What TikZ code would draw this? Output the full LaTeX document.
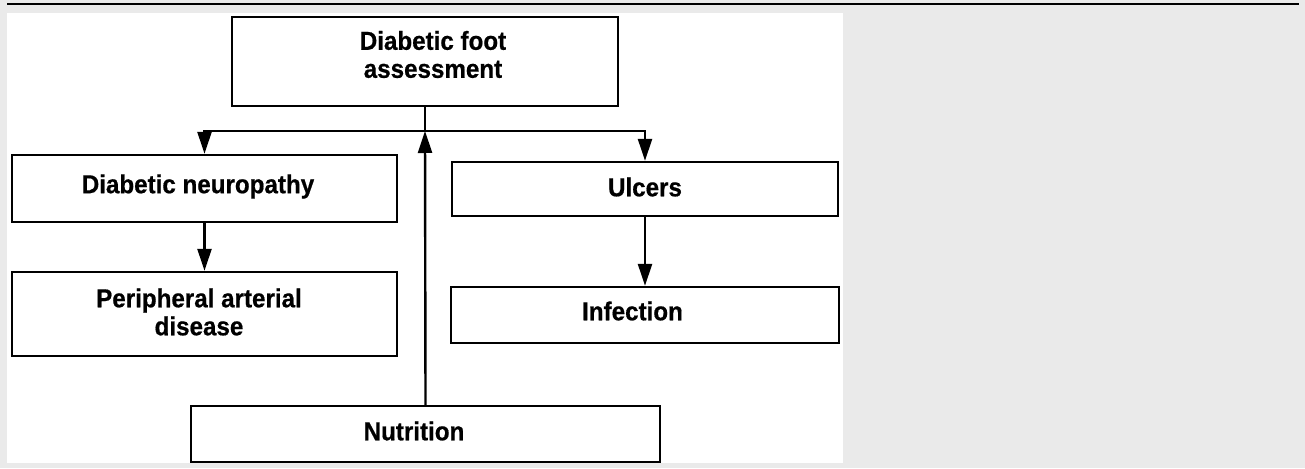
\documentclass[tikz,border=0pt]{standalone}
\usepackage{fontspec}
\setmainfont{Liberation Sans}[FakeStretch=0.93]
\newfontfamily\boxfont{Liberation Sans Bold}[FakeStretch=0.93, FakeBold=0.6]
\usetikzlibrary{arrows.meta}
\definecolor{pagegray}{HTML}{EAEAEA}
\begin{document}
\begin{tikzpicture}[x=1pt,y=-1pt,
  box/.style={draw=black, fill=white, line width=2.4pt, rectangle, inner sep=0pt},
  lbl/.style={align=center, inner sep=0pt, font=\boxfont\fontsize{26}{28}\selectfont},
  link/.style={line width=2.4pt},
  arr/.style={line width=2.4pt, -{Triangle[length=22pt,width=14pt]}}]
  % page background and white panel
  \useasboundingbox (0,0) rectangle (1305,468);
  \fill[pagegray] (0,0) rectangle (1305,468);
  \fill[white] (7,13) rectangle (843,463);
  \draw[line width=2.4pt] (7,4) -- (1299,4);

  % boxes, each with its caption set at the centre
  \node[box, minimum width=386pt, minimum height=89pt,
    label={[lbl, xshift=8pt, yshift=7pt]center:Diabetic foot\\assessment}] (top) at (425,61.5) {};
  \node[box, minimum width=385pt, minimum height=67pt,
    label={[lbl, xshift=-6.5pt, yshift=2pt]center:Diabetic neuropathy}] (neuro) at (204.5,188.5) {};
  \node[box, minimum width=385pt, minimum height=84pt,
    label={[lbl, xshift=-5.5pt, yshift=2pt]center:Peripheral arterial\\disease}] (pad) at (204.5,314) {};
  \node[box, minimum width=386pt, minimum height=54pt,
    label={[lbl, yshift=2pt]center:Ulcers}] (ulcers) at (645,189) {};
  \node[box, minimum width=388pt, minimum height=56pt,
    label={[lbl, xshift=-12.5pt, yshift=4pt]center:Infection}] (infect) at (645,315) {};
  \node[box, minimum width=469pt, minimum height=56pt,
    label={[lbl, xshift=-11.5pt, yshift=3pt]center:Nutrition}] (nutri) at (425.5,434) {};

  % connectors
  \coordinate (j) at (425,131);
  \draw[link] (top.south) -- (j);
  \draw[arr] (j) -| (neuro.north);
  \draw[arr] (j) -| (ulcers.north);
  \draw[arr] (nutri.north) -- (j);
  \draw[arr] (neuro.south) -- (pad.north);
  \draw[arr] (ulcers.south) -- (infect.north);
\end{tikzpicture}
\end{document}
